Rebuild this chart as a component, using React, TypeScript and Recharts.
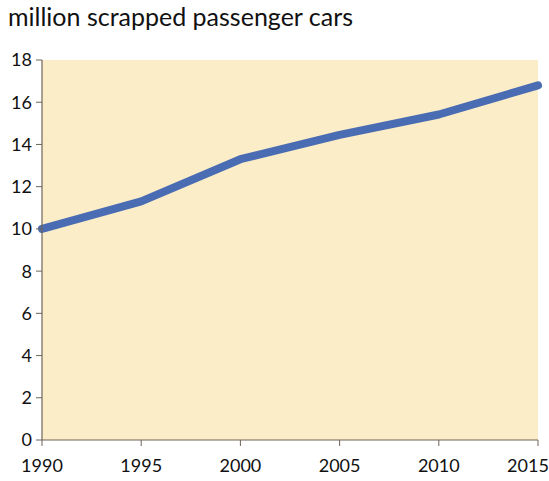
import { LineChart, Line, XAxis, YAxis, CartesianGrid } from "recharts";

const years = [1990, 1995, 2000, 2005, 2010, 2015];
const scrapped = [10.0, 11.3, 13.3, 14.45, 15.42, 16.8];
const yTicks = [0, 2, 4, 6, 8, 10, 12, 14, 16, 18];

const data = years.map((year, i) => ({ year, scrapped: scrapped[i] }));

const FONT = "Lato, 'Open Sans', sans-serif";
const AXIS = "#6e6458";

const XTick = ({ x, y, payload }: any) => {
  // keep the last label inside the picture
  const cx = Math.min(x, 549 - 21);
  return (
    <text x={cx} y={y + 24} textAnchor="middle" fontSize={18} fill="#111" fontFamily={FONT}>
      {payload.value}
    </text>
  );
};

export default function App() {
  return (
    <div style={{ position: "absolute", left: 0, top: 0, width: 549, height: 481, background: "#fff" }}>
      <div
        style={{
          position: "absolute",
          left: 8,
          top: 1,
          fontFamily: FONT,
          fontSize: 25,
          color: "#111",
        }}
      >
        million scrapped passenger cars
      </div>
      <LineChart width={549} height={481} data={data} margin={{ top: 60, right: 11, left: 0, bottom: 0 }}>
        <CartesianGrid horizontal={false} vertical={false} fill="#fcedc9" />
        <XAxis
          dataKey="year"
          type="number"
          domain={[1990, 2015]}
          ticks={years}
          interval={0}
          height={41}
          tick={<XTick />}
          tickSize={6}
          axisLine={{ stroke: AXIS, strokeWidth: 1.2 }}
          tickLine={{ stroke: AXIS }}
        />
        <YAxis
          type="number"
          domain={[0, 18]}
          ticks={yTicks}
          interval={0}
          width={42}
          tickSize={6}
          tickMargin={4}
          tick={{ fontSize: 18, fill: "#111", fontFamily: FONT }}
          axisLine={{ stroke: AXIS, strokeWidth: 1.2 }}
          tickLine={{ stroke: AXIS }}
        />
        <Line
          type="linear"
          dataKey="scrapped"
          stroke="#4a6cb3"
          strokeWidth={8}
          strokeLinecap="round"
          strokeLinejoin="round"
          dot={false}
          isAnimationActive={false}
        />
      </LineChart>
    </div>
  );
}
